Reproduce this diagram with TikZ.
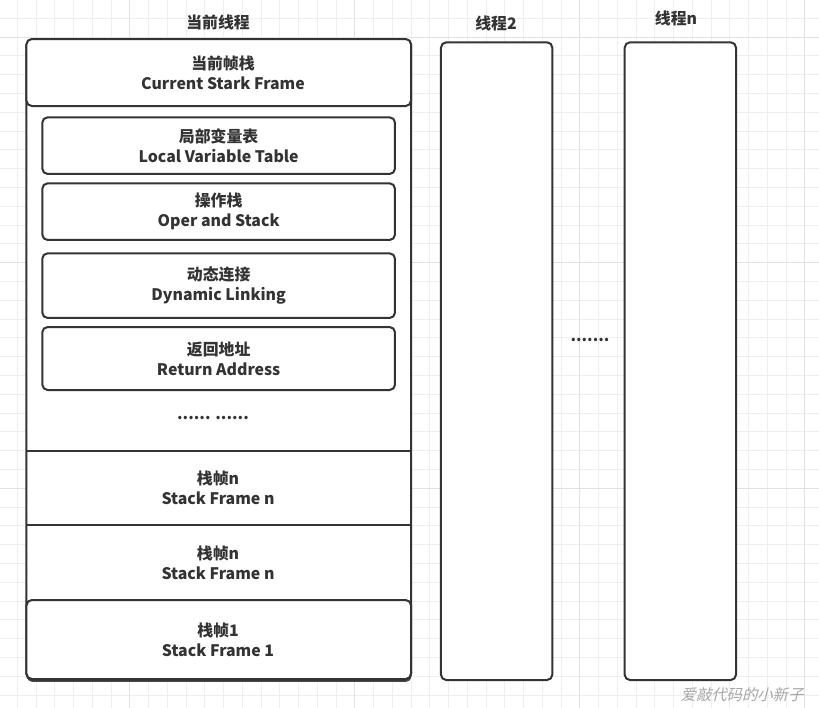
\documentclass[tikz,border=0pt]{standalone}
\usepackage{fontspec}
\setmainfont{Noto Sans CJK SC}
\newfontfamily\markfont[FakeSlant=0.25]{Noto Sans CJK SC}
\usetikzlibrary{positioning,shadows}
\definecolor{ink}{HTML}{333333}
\definecolor{gridminor}{HTML}{EFEFEF}
\definecolor{gridmajor}{HTML}{E2E2E2}
\definecolor{markgray}{HTML}{A6A6A6}
\tikzset{
  stackbox/.style={draw=ink,fill=white,line width=1.5pt,rounded corners=4pt,
                   inner sep=0pt,outer sep=0pt,minimum width=288.4pt},
  slotbox/.style={draw=ink,fill=white,line width=1.5pt,rounded corners=4pt,
                  inner sep=0pt,outer sep=0pt,minimum width=264.5pt,
                  align=center,text=ink,font=\bfseries\fontsize{11.9}{15}\selectfont},
  threadbox/.style={draw=ink,fill=white,line width=1.5pt,rounded corners=4pt,
                    inner sep=0pt,outer sep=0pt,minimum width=83.5pt,minimum height=478.3pt},
  txt/.style={align=center,text=ink,inner sep=0pt,font=\bfseries\fontsize{11.9}{15}\selectfont},
  divider/.style={draw=ink,line width=1.5pt}
}

\begin{document}
\begin{tikzpicture}[x=0.75pt,y=-0.75pt]
  \useasboundingbox (0,0) rectangle (819,708);
  \fill[white] (0,0) rectangle (819,708);
  % grid
  \foreach \k in {0,...,43}
    \draw[gridminor,line width=0.75pt] (17.3+\k*18.75,0) -- (17.3+\k*18.75,708);
  \foreach \k in {0,...,37}
    \draw[gridminor,line width=0.75pt] (0,18.3+\k*18.8) -- (819,18.3+\k*18.8);
  \foreach \k in {6,18,30,42}
    \draw[gridmajor,line width=0.75pt] (17.3+\k*18.75,0) -- (17.3+\k*18.75,708);
  \foreach \k in {1,13,25,37}
    \draw[gridmajor,line width=0.75pt] (0,18.3+\k*18.8) -- (819,18.3+\k*18.8);

  % current thread
  \node[txt] (curtitle) at (218,22) {当前线程};
  \node[stackbox,minimum height=480pt,
        drop shadow={shadow xshift=0.3pt,shadow yshift=-1.8pt,fill=ink,opacity=0.9}]
       (stack) at (218.75,359.5) {};
  \node[stackbox,minimum height=50.25pt] (head) at (218.75,72.5) {};
  \node[txt] (headtxt) at (223,72.5) {当前帧栈\\Current Stark Frame};

  \node[slotbox,minimum height=42.5pt] (locals) at (218.65,145.65) {局部变量表\\Local Variable Table};
  \node[slotbox,minimum height=42.5pt] (operand) at (218.65,211.65) {操作栈\\Oper and Stack};
  \node[slotbox,minimum height=48.5pt] (dynlink) at (218.65,285.65) {动态连接\\Dynamic Linking};
  \node[slotbox,minimum height=47.25pt] (retaddr) at (218.65,358.5) {返回地址\\Return Address};
  \node[txt] (moreslots) at (213,418) {...... ......};

  \draw[divider] (stack.west |- 0,450.7) -- (stack.east |- 0,450.7);
  \draw[divider] (stack.west |- 0,525) -- (stack.east |- 0,525);
  \node[txt] (framen) at (218,488) {栈帧n\\Stack Frame n};
  \node[txt] (framem) at (218,563) {栈帧n\\Stack Frame n};
  \node[stackbox,minimum height=59.25pt] (firstbox) at (218.75,639.5) {};
  \node[txt] (frameone) at (218,640) {栈帧1\\Stack Frame 1};

  % other threads
  \node[txt] (twotitle) at (496,23) {线程2};
  \node[threadbox] (two) at (496.65,361.15) {};
  \node[txt] (midots) at (590,340) {.......};
  \node[txt] (ntitle) at (676,18) {线程n};
  \node[threadbox] (last) at (680.35,361.15) {};

  \node[text=markgray,inner sep=0pt,font=\markfont\fontsize{11.5}{14}\selectfont]
       (mark) at (742,695) {爱敲代码的小新子};
\end{tikzpicture}
\end{document}
